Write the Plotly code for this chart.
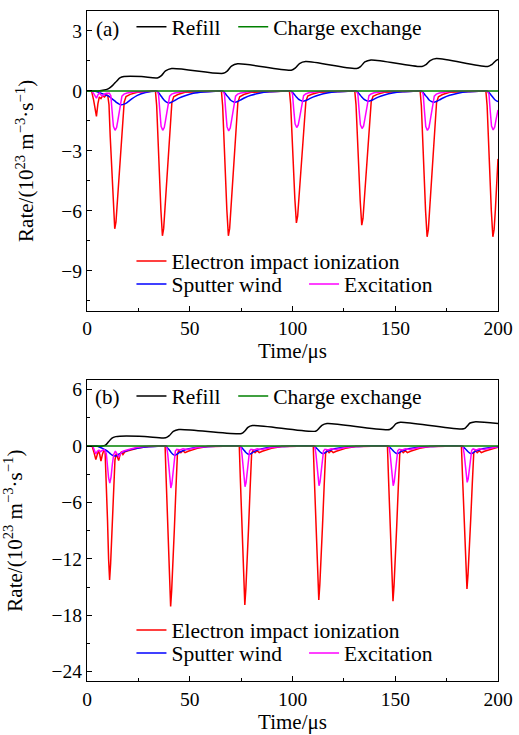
import plotly.graph_objects as go

# ======================= Panel (a) data =======================
# Electron impact ionization (red)
t_ion_a = [0, 2.2, 3.2, 4.0, 4.6, 5.3, 6.0, 6.8, 7.6, 8.5, 9.3,
           10.1, 10.7, 11.3, 12.0, 12.75, 13.5, 14.1, 14.7, 15.5, 16.5, 17.5, 18.1, 19.0, 21.0, 24.5,
           33.3, 33.9, 34.5, 35.2, 35.95, 36.7, 37.3, 37.9, 38.7, 39.7, 40.7, 41.3, 42.2, 44.2, 47.7,
           65.4, 66.0, 66.6, 67.3, 68.05, 68.8, 69.4, 70.0, 70.8, 71.8, 72.8, 73.4, 74.3, 76.3, 79.8,
           98.5, 99.1, 99.7, 100.4, 101.15, 101.9, 102.5, 103.1, 103.9, 104.9, 105.9, 106.5, 107.4, 109.4, 112.9,
           130.3, 130.9, 131.5, 132.2, 132.95, 133.7, 134.3, 134.9, 135.7, 136.7, 137.7, 138.3, 139.2, 141.2, 144.7,
           162.1, 162.7, 163.3, 164.0, 164.75, 165.5, 166.1, 166.7, 167.5, 168.5, 169.5, 170.1, 171.0, 173.0, 176.5,
           194.1, 194.7, 195.3, 196.0, 196.75, 197.5, 198.1, 198.7, 199.5, 200.0]
ion_a = [0, 0, -0.45, -1.0, -1.27, -0.65, -0.3, -0.38, -0.25, -0.3, -0.2,
         -0.22, -0.69, -2.28, -3.93, -5.66, -6.9, -6.56, -5.66, -4.42, -2.83, -1.24, -0.55, -0.28, -0.17, -0.07,
         0, -0.73, -2.39, -4.13, -5.95, -7.25, -6.89, -5.95, -4.64, -2.97, -1.31, -0.58, -0.29, -0.18, -0.07,
         0, -0.73, -2.39, -4.13, -5.95, -7.25, -6.89, -5.95, -4.64, -2.97, -1.31, -0.58, -0.29, -0.18, -0.07,
         0, -0.66, -2.18, -3.76, -5.41, -6.6, -6.27, -5.41, -4.22, -2.71, -1.19, -0.53, -0.26, -0.17, -0.07,
         0, -0.67, -2.22, -3.83, -5.51, -6.72, -6.38, -5.51, -4.3, -2.76, -1.21, -0.54, -0.27, -0.17, -0.07,
         0, -0.73, -2.41, -4.16, -5.99, -7.3, -6.94, -5.99, -4.67, -2.99, -1.31, -0.58, -0.29, -0.18, -0.07,
         0, -0.73, -2.41, -4.16, -5.99, -7.3, -6.94, -5.99, -4.67, -3.4]

# Excitation (magenta)
t_exc_a = [0, 2.2, 3.2, 4.0, 4.6, 5.3, 6.0, 6.8, 7.6, 8.5, 9.5,
           10.9, 11.6, 12.2, 12.85, 13.65, 14.4, 15.0, 15.6, 16.4, 17.0, 18.0, 19.5, 22.5, 26.5,
           34.1, 34.8, 35.4, 36.05, 36.85, 37.6, 38.2, 38.8, 39.6, 40.2, 41.2, 42.7, 45.7, 49.7,
           66.2, 66.9, 67.5, 68.15, 68.95, 69.7, 70.3, 70.9, 71.7, 72.3, 73.3, 74.8, 77.8, 81.8,
           99.3, 100.0, 100.6, 101.25, 102.05, 102.8, 103.4, 104.0, 104.8, 105.4, 106.4, 107.9, 110.9, 114.9,
           131.1, 131.8, 132.4, 133.05, 133.85, 134.6, 135.2, 135.8, 136.6, 137.2, 138.2, 139.7, 142.7, 146.7,
           162.9, 163.6, 164.2, 164.85, 165.65, 166.4, 167.0, 167.6, 168.4, 169.0, 170.0, 171.5, 174.5, 178.5,
           194.9, 195.6, 196.2, 196.85, 197.65, 198.4, 199.0, 199.6, 200.0]
exc_a = [0, 0, -0.12, -0.3, -0.36, -0.2, -0.1, -0.2, -0.25, -0.15, -0.12,
         -0.12, -0.24, -0.99, -1.77, -1.97, -1.83, -1.48, -1.06, -0.49, -0.26, -0.16, -0.1, -0.05, -0.02,
         0, -0.16, -0.99, -1.77, -1.97, -1.83, -1.48, -1.06, -0.49, -0.26, -0.16, -0.1, -0.05, -0.02,
         0, -0.16, -1.0, -1.8, -2.0, -1.86, -1.5, -1.08, -0.5, -0.26, -0.16, -0.1, -0.05, -0.02,
         0, -0.15, -0.92, -1.65, -1.83, -1.7, -1.37, -0.99, -0.46, -0.24, -0.15, -0.09, -0.05, -0.02,
         0, -0.15, -0.94, -1.69, -1.88, -1.75, -1.41, -1.02, -0.47, -0.24, -0.15, -0.09, -0.05, -0.02,
         0, -0.16, -0.99, -1.78, -1.98, -1.84, -1.49, -1.07, -0.5, -0.26, -0.16, -0.1, -0.05, -0.02,
         0, -0.16, -0.98, -1.76, -1.95, -1.81, -1.46, -1.1, -0.95]

# Sputter wind (blue)
t_sw_a = [0, 2.2, 4.0, 5.3, 6.5, 7.5, 8.5, 9.5,
          10.5, 11.5, 12.5, 13.5, 14.5, 15.5, 16.5, 18.0, 19.5, 21.5, 24.5, 28.5,
          33.7, 34.7, 35.7, 36.7, 37.7, 38.7, 39.9, 41.2, 42.7, 44.7, 47.7, 51.7, 56.7, 62.7,
          65.8, 66.8, 67.8, 68.8, 69.8, 70.8, 72.0, 73.3, 74.8, 76.8, 79.8, 83.8, 88.8, 94.8,
          98.9, 99.9, 100.9, 101.9, 102.9, 103.9, 105.1, 106.4, 107.9, 109.9, 112.9, 116.9, 121.9, 127.9,
          130.7, 131.7, 132.7, 133.7, 134.7, 135.7, 136.9, 138.2, 139.7, 141.7, 144.7, 148.7, 153.7, 159.7,
          162.5, 163.5, 164.5, 165.5, 166.5, 167.5, 168.7, 170.0, 171.5, 173.5, 176.5, 180.5, 185.5, 191.5,
          194.5, 195.5, 196.5, 197.5, 198.5, 199.5, 200.0]
sw_a = [0, 0, -0.01, -0.05, -0.1, -0.14, -0.18, -0.22,
        -0.26, -0.33, -0.42, -0.5, -0.59, -0.65, -0.69, -0.66, -0.58, -0.42, -0.22, -0.08,
        -0.02, -0.07, -0.21, -0.35, -0.48, -0.56, -0.6, -0.56, -0.48, -0.36, -0.24, -0.12, -0.05, -0.01,
        0, -0.07, -0.2, -0.32, -0.45, -0.52, -0.56, -0.53, -0.45, -0.34, -0.22, -0.11, -0.04, -0.01,
        0, -0.06, -0.18, -0.3, -0.41, -0.47, -0.51, -0.48, -0.41, -0.31, -0.2, -0.1, -0.04, -0.01,
        0, -0.06, -0.18, -0.3, -0.41, -0.47, -0.51, -0.48, -0.41, -0.31, -0.2, -0.1, -0.04, -0.01,
        0, -0.07, -0.2, -0.32, -0.45, -0.52, -0.56, -0.53, -0.45, -0.34, -0.22, -0.11, -0.04, -0.01,
        0, -0.07, -0.19, -0.32, -0.44, -0.51, -0.53]

# Refill (black)
t_ref_a = [0, 5.5, 8.5, 10.5, 12.5, 14.5, 16.0, 18.0, 26.5,
           34.2, 36.2, 38.2, 41.2,
           66.3, 68.3, 70.3, 73.3,
           99.4, 101.4, 103.4, 106.4,
           131.2, 133.2, 135.2, 138.2,
           163.0, 165.0, 167.0, 170.0,
           195.0, 197.0, 199.0, 200.0]
ref_a = [0, 0, 0.05, 0.12, 0.28, 0.5, 0.65, 0.72, 0.72,
         0.65, 0.77, 1.0, 1.12,
         0.88, 1.0, 1.24, 1.36,
         1.04, 1.15, 1.37, 1.47,
         1.12, 1.23, 1.45, 1.55,
         1.22, 1.32, 1.52, 1.62,
         1.22, 1.32, 1.52, 1.58]

# Charge exchange (green)
t_cx_a = [0, 200]
cx_a = [0, 0]

# ======================= Panel (b) data =======================
t_ion_b = [0, 2.5, 3.3, 4.3, 5.0, 5.6, 6.2, 6.8, 7.5, 8.2, 8.8,
           9.4, 10.0, 10.5, 11.0, 11.5, 12.1, 12.8, 13.6, 14.2, 14.8, 15.4, 16.0, 16.8, 17.5, 18.5, 20.0, 22.0, 25.0, 30.0,
           38.0, 38.5, 39.1, 39.7, 40.2, 40.7, 41.2, 41.8, 42.5, 43.3, 44.0, 44.7, 45.7, 46.7, 47.7, 49.2, 50.7, 53.7, 58.7,
           74.1, 74.6, 75.2, 75.8, 76.3, 76.8, 77.3, 77.9, 78.6, 79.4, 80.1, 80.8, 81.8, 82.8, 83.8, 85.3, 86.8, 89.8, 94.8,
           110.1, 110.6, 111.2, 111.8, 112.3, 112.8, 113.3, 113.9, 114.6, 115.4, 116.1, 116.8, 117.8, 118.8, 119.8, 121.3, 122.8, 125.8, 130.8,
           146.2, 146.7, 147.3, 147.9, 148.4, 148.9, 149.4, 150.0, 150.7, 151.5, 152.2, 152.9, 153.9, 154.9, 155.9, 157.4, 158.9, 161.9, 166.9,
           182.2, 182.7, 183.3, 183.9, 184.4, 184.9, 185.4, 186.0, 186.7, 187.5, 188.2, 188.9, 189.9, 190.9, 191.9, 193.4, 194.9, 197.9, 200.0]
ion_b = [0, 0, -0.6, -1.45, -0.9, -0.5, -0.9, -1.6, -0.9, -0.45, -0.6,
         -3.5, -8.0, -12.0, -14.26, -12.5, -9.0, -5.5, -1.5, -0.8, -1.2, -1.55, -1.0, -0.6, -0.9, -0.6, -0.5, -0.35, -0.2, -0.05,
         0, -3.41, -7.51, -11.61, -15.02, -17.07, -15.36, -12.8, -8.88, -4.44, -0.85, -0.45, -0.7, -0.5, -0.7, -0.55, -0.45, -0.25, -0.05,
         0, -3.38, -7.44, -11.49, -14.87, -16.9, -15.21, -12.68, -8.79, -4.39, -0.85, -0.45, -0.7, -0.5, -0.7, -0.55, -0.45, -0.25, -0.05,
         0, -3.27, -7.2, -11.13, -14.41, -16.37, -14.73, -12.28, -8.51, -4.26, -0.82, -0.45, -0.7, -0.5, -0.7, -0.55, -0.45, -0.25, -0.05,
         0, -3.3, -7.26, -11.22, -14.52, -16.5, -14.85, -12.38, -8.58, -4.29, -0.83, -0.45, -0.7, -0.5, -0.7, -0.55, -0.45, -0.25, -0.05,
         0, -3.04, -6.69, -10.34, -13.38, -15.2, -13.68, -11.4, -7.9, -3.95, -0.76, -0.45, -0.7, -0.5, -0.7, -0.55, -0.45, -0.25, -0.12]

t_exc_b = [0, 2.8, 3.5, 4.3, 5.0, 5.8, 6.6, 7.5, 8.5,
           9.4, 10.0, 10.5, 11.1, 11.7, 12.3, 13.0, 13.8, 14.6, 15.5, 16.4, 17.5, 19.0, 21.0, 24.0, 28.0,
           38.7, 39.3, 39.9, 40.4, 40.8, 41.3, 41.9, 42.5, 43.0, 43.7, 45.2, 46.7, 48.7, 50.7, 53.7, 58.7,
           74.8, 75.4, 76.0, 76.5, 76.9, 77.4, 78.0, 78.6, 79.1, 79.8, 81.3, 82.8, 84.8, 86.8, 89.8, 94.8,
           110.8, 111.4, 112.0, 112.5, 112.9, 113.4, 114.0, 114.6, 115.1, 115.8, 117.3, 118.8, 120.8, 122.8, 125.8, 130.8,
           146.9, 147.5, 148.1, 148.6, 149.0, 149.5, 150.1, 150.7, 151.2, 151.9, 153.4, 154.9, 156.9, 158.9, 161.9, 166.9,
           182.9, 183.5, 184.1, 184.6, 185.0, 185.5, 186.1, 186.7, 187.2, 187.9, 189.4, 190.9, 192.9, 194.9, 197.9, 200.0]
exc_b = [0, 0, -0.4, -0.85, -0.55, -0.45, -0.6, -0.45, -0.4,
         -0.8, -2.2, -3.4, -3.94, -3.3, -2.0, -0.9, -0.55, -0.8, -1.15, -0.8, -0.55, -0.45, -0.3, -0.15, -0.05,
         0, -0.89, -2.68, -4.11, -4.47, -4.02, -2.68, -1.25, -0.54, -0.36, -0.42, -0.3, -0.38, -0.28, -0.15, -0.04,
         0, -0.87, -2.6, -3.98, -4.33, -3.9, -2.6, -1.21, -0.52, -0.35, -0.42, -0.3, -0.38, -0.28, -0.15, -0.04,
         0, -0.84, -2.53, -3.88, -4.22, -3.8, -2.53, -1.18, -0.51, -0.34, -0.42, -0.3, -0.38, -0.28, -0.15, -0.04,
         0, -0.84, -2.53, -3.88, -4.22, -3.8, -2.53, -1.18, -0.51, -0.34, -0.42, -0.3, -0.38, -0.28, -0.15, -0.04,
         0, -0.77, -2.32, -3.56, -3.87, -3.48, -2.32, -1.08, -0.46, -0.31, -0.42, -0.3, -0.38, -0.28, -0.15, -0.08]

t_sw_b = [0, 4.5, 6.0, 7.5, 9.0, 10.5, 11.5, 12.5, 13.5, 14.5, 16.0, 18.0, 21.0, 25.0, 30.0, 36.0,
          38.0, 39.0, 40.0, 41.0, 41.9, 42.8, 43.9, 45.2, 47.2, 49.7, 53.2, 57.7, 62.7,
          74.1, 75.1, 76.1, 77.1, 78.0, 78.9, 80.0, 81.3, 83.3, 85.8, 89.3, 93.8, 98.8,
          110.1, 111.1, 112.1, 113.1, 114.0, 114.9, 116.0, 117.3, 119.3, 121.8, 125.3, 129.8, 134.8,
          146.2, 147.2, 148.2, 149.2, 150.1, 151.0, 152.1, 153.4, 155.4, 157.9, 161.4, 165.9, 170.9,
          182.2, 183.2, 184.2, 185.2, 186.1, 187.0, 188.1, 189.4, 191.4, 193.9, 197.4, 200.0]
sw_b = [0, 0, -0.1, -0.25, -0.42, -0.65, -0.85, -1.0, -1.06, -1.0, -0.8, -0.6, -0.38, -0.2, -0.08, -0.02,
        0, -0.15, -0.4, -0.7, -0.9, -1.0, -0.85, -0.65, -0.45, -0.3, -0.16, -0.07, -0.02,
        0, -0.14, -0.36, -0.63, -0.81, -0.9, -0.77, -0.59, -0.41, -0.27, -0.14, -0.06, -0.02,
        0, -0.12, -0.32, -0.56, -0.72, -0.8, -0.68, -0.52, -0.36, -0.24, -0.13, -0.06, -0.02,
        0, -0.12, -0.32, -0.56, -0.72, -0.8, -0.68, -0.52, -0.36, -0.24, -0.13, -0.06, -0.02,
        0, -0.12, -0.32, -0.56, -0.72, -0.8, -0.68, -0.52, -0.36, -0.24, -0.13, -0.09]

t_ref_b = [0, 7.5, 9.0, 10.5, 12.0, 14.0, 16.0, 28.0,
           38.3, 40.0, 42.0, 44.7,
           75.2, 76.8, 78.3, 80.5,
           111.2, 112.8, 114.3, 116.8,
           147.3, 148.9, 150.4, 152.5,
           183.3, 184.9, 186.4, 188.5, 200.0]
ref_b = [0, 0, 0.1, 0.45, 0.82, 1.0, 1.05, 1.02,
         0.88, 1.1, 1.55, 1.76,
         1.34, 1.6, 1.98, 2.18,
         1.58, 1.85, 2.2, 2.39,
         1.76, 2.02, 2.38, 2.53,
         1.83, 2.1, 2.45, 2.57, 2.4]

t_cx_b = [0, 200]
cx_b = [0, 0]

# axis settings
x_range = [0, 200]
ya_range = [-11, 4]
ya_ticks = [-9, -6, -3, 0, 3]
yb_range = [-25, 7]
yb_ticks = [-24, -18, -12, -6, 0, 6]
x_ticks = [0, 50, 100, 150, 200]

names = ["Electron impact ionization", "Sputter wind", "Excitation", "Refill", "Charge exchange"]
colors = ["#ff0000", "#0000ff", "#ff00ff", "#000000", "#008000"]

FONT = "Liberation Serif"
W, H = 519, 735
ML, MR, MT, MB = 87, 16, 6, 54
PW = W - ML - MR
PH = H - MT - MB


def px_x(p):
    return (p - ML) / PW


def px_y(p):
    return (H - MB - p) / PH


fig = go.Figure()

panels = [
    (t_ion_a, ion_a, t_sw_a, sw_a, t_exc_a, exc_a, t_ref_a, ref_a, t_cx_a, cx_a, "x", "y", 0),
    (t_ion_b, ion_b, t_sw_b, sw_b, t_exc_b, exc_b, t_ref_b, ref_b, t_cx_b, cx_b, "x2", "y2", 1),
]

legend_pos = {
    0: [(137, 258), (137, 281), (311.7, 281), (137, 22), (240, 22)],
    1: [(137, 629.7), (137, 652.7), (311.7, 652.7), (137, 394), (240, 394)],
}

layout_legends = {}
for (ti, vi, ts, vs, te, ve, tr, vr, tc, vc, xa, ya, k) in panels:
    series = [(ti, vi, "linear"), (ts, vs, "spline"), (te, ve, "linear"), (tr, vr, "spline"), (tc, vc, "linear")]
    for j, (tt, vv, shape) in enumerate(series):
        lid = "legend" if (k * 5 + j) == 0 else f"legend{k * 5 + j + 1}"
        line = dict(color=colors[j], width=1.5, shape=shape)
        if shape == "spline":
            line["smoothing"] = 0.8
        fig.add_trace(go.Scatter(x=tt, y=vv, mode="lines", name=names[j], line=line,
                                 xaxis=xa, yaxis=ya, legend=lid, showlegend=True))
        lx, ly = legend_pos[k][j]
        layout_legends[lid] = dict(
            x=px_x(lx - 5), y=px_y(ly), xanchor="left", yanchor="middle",
            bgcolor="rgba(0,0,0,0)", borderwidth=0,
            font=dict(family=FONT, size=21.5, color="black"),
            tracegroupgap=0, itemwidth=30,
        )

axis_common = dict(
    showline=True, linecolor="black", linewidth=1.3, mirror=True,
    ticks="inside", ticklen=5, tickwidth=1.2, tickcolor="black",
    showgrid=False, zeroline=False,
    tickfont=dict(family=FONT, size=19.5, color="black"),
)

dom_a = [px_y(308), 1.0]
dom_b = [0.0, px_y(378)]
ytitle = "Rate/(10<sup>23</sup> m<sup>−3</sup>·s<sup>−1</sup>)"

fig.update_layout(
    width=W, height=H,
    margin=dict(l=ML, r=MR, t=MT, b=MB),
    plot_bgcolor="white", paper_bgcolor="white",
    font=dict(family=FONT, size=19, color="black"),
    xaxis=dict(axis_common, range=x_range, tickvals=x_ticks, domain=[0, 1], anchor="y",
               minor=dict(dtick=25, ticks="inside", ticklen=3, tickcolor="black", tickwidth=1.2),
               title=dict(text="Time/μs", font=dict(family=FONT, size=21), standoff=4)),
    yaxis=dict(axis_common, range=ya_range, tickvals=ya_ticks, domain=dom_a, anchor="x",
               minor=dict(tick0=0, dtick=1.5, ticks="inside", ticklen=3, tickcolor="black", tickwidth=1.2),
               title=dict(text=ytitle, font=dict(family=FONT, size=21), standoff=21)),
    xaxis2=dict(axis_common, range=x_range, tickvals=x_ticks, domain=[0, 1], anchor="y2",
                minor=dict(dtick=25, ticks="inside", ticklen=3, tickcolor="black", tickwidth=1.2),
                title=dict(text="Time/μs", font=dict(family=FONT, size=21), standoff=4)),
    yaxis2=dict(axis_common, range=yb_range, tickvals=yb_ticks, domain=dom_b, anchor="x2",
                minor=dict(tick0=0, dtick=3, ticks="inside", ticklen=3, tickcolor="black", tickwidth=1.2),
                title=dict(text=ytitle, font=dict(family=FONT, size=21), standoff=26)),
    annotations=[
        dict(text="(a)", x=px_x(108), y=px_y(24), xref="paper", yref="paper",
             xanchor="center", yanchor="middle", showarrow=False,
             font=dict(family=FONT, size=21, color="black")),
        dict(text="(b)", x=px_x(108), y=px_y(395), xref="paper", yref="paper",
             xanchor="center", yanchor="middle", showarrow=False,
             font=dict(family=FONT, size=21, color="black")),
    ],
    **layout_legends,
)

fig.write_html("out.html",
               config={"displayModeBar": False},
               post_script="document.body.style.margin='0';document.body.style.overflow='hidden';")
